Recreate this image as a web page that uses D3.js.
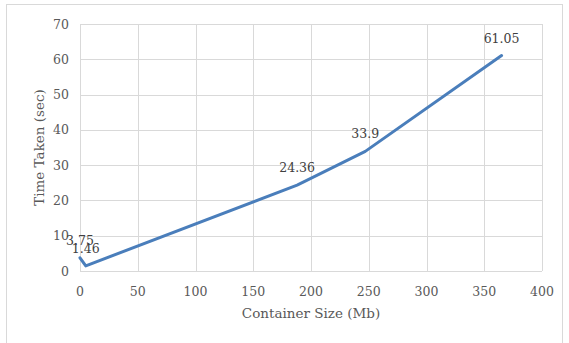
<!DOCTYPE html>
<html><head><meta charset="utf-8">
<script src="https://cdn.jsdelivr.net/npm/d3@7"></script>
<style>body{margin:0;background:#fff}svg{display:block}text{font-family:"DejaVu Serif","Liberation Serif",serif}</style>
</head><body><svg id="c" width="569" height="343"></svg>
<script>
const sizes = [0, 5, 188, 247, 365];
const times = [3.75, 1.46, 24.36, 33.9, 61.05];
const xTicks = [0, 50, 100, 150, 200, 250, 300, 350, 400];
const yTicks = [0, 10, 20, 30, 40, 50, 60, 70];

const svg = d3.select("#c");
const W = 569, H = 343;
const m = {l: 80, r: 27, t: 24, b: 72};
svg.append("rect").attr("x", 6.5).attr("y", 4.5).attr("width", W - 13).attr("height", H - 4)
  .attr("fill", "#fff").attr("stroke", "#d9d9d9");
const x = d3.scaleLinear().domain([0, 400]).range([m.l, W - m.r]);
const y = d3.scaleLinear().domain([0, 70]).range([H - m.b, m.t]);
const g = svg.append("g");
g.selectAll(".gy").data(yTicks).join("line")
  .attr("x1", x(0)).attr("x2", x(400)).attr("y1", d => Math.round(y(d)) + 0.5).attr("y2", d => Math.round(y(d)) + 0.5)
  .attr("stroke", "#d9d9d9");
g.selectAll(".gx").data(xTicks).join("line")
  .attr("y1", y(0)).attr("y2", y(70)).attr("x1", d => Math.round(x(d)) + 0.5).attr("x2", d => Math.round(x(d)) + 0.5)
  .attr("stroke", "#d9d9d9");
const tc = "#595959";
g.selectAll(".tx").data(xTicks).join("text")
  .attr("x", d => x(d)).attr("y", y(0) + 25).attr("text-anchor", "middle")
  .attr("font-size", 12.5).attr("fill", tc).text(d => d);
g.selectAll(".ty").data(yTicks).join("text")
  .attr("x", x(0) - 11).attr("y", d => y(d) + 4.5).attr("text-anchor", "end")
  .attr("font-size", 12.5).attr("fill", tc).text(d => d);
svg.append("text").attr("x", (x(0) + x(400)) / 2).attr("y", 318).attr("text-anchor", "middle")
  .attr("font-size", 13.5).attr("fill", tc).text("Container Size (Mb)");
svg.append("text").attr("transform", `translate(44,${(y(0)+y(70))/2}) rotate(-90)`).attr("text-anchor", "middle")
  .attr("font-size", 13.5).attr("fill", tc).text("Time Taken (sec)");
const pts = sizes.map((s, i) => [s, times[i]]);
g.append("path").datum(pts)
  .attr("d", d3.line().x(d => x(d[0])).y(d => y(d[1])))
  .attr("fill", "none").attr("stroke", "#4a7ebb").attr("stroke-width", 3).attr("stroke-linejoin", "round").attr("stroke-linecap", "round");
g.selectAll(".lbl").data(pts).join("text")
  .attr("x", d => x(d[0])).attr("y", d => y(d[1]) - 13).attr("text-anchor", "middle")
  .attr("font-size", 12.5).attr("fill", "#404040").text(d => d[1]);
</script></body></html>
